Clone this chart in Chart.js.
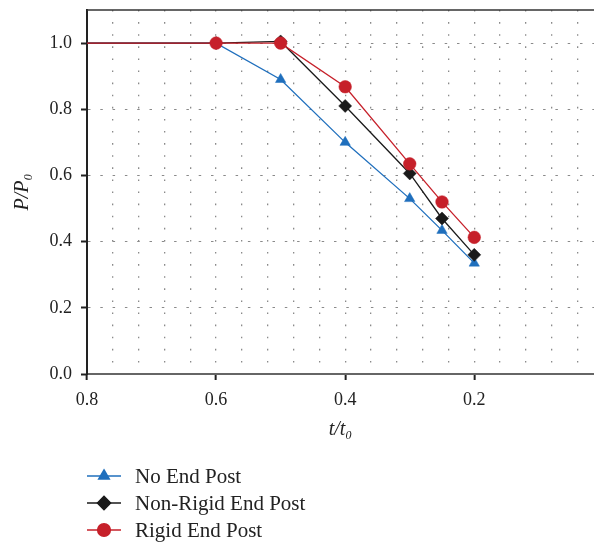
<!DOCTYPE html>
<html>
<head>
<meta charset="utf-8">
<script src="https://cdn.jsdelivr.net/npm/chart.js@4.4.0/dist/chart.umd.min.js"></script>
<style>
  html, body { margin: 0; padding: 0; background: #fff; overflow: hidden; }
</style>
</head>
<body>
<canvas id="chart" width="594" height="542"></canvas>
<script>
// t/t0 values (1.0 lies outside the axis, the line runs in from the left edge)
const thicknessRatio = [1.0, 0.6, 0.5, 0.4, 0.3, 0.25, 0.2];
const noEndPost = [1.0, 1.0, 0.89, 0.70, 0.53, 0.434, 0.335];
const nonRigidEndPost = [1.0, 1.0, 1.005, 0.81, 0.606, 0.47, 0.36];
const rigidEndPost = [1.0, 1.0, 1.0, 0.868, 0.635, 0.52, 0.413];
const seriesNames = ['No End Post', 'Non-Rigid End Post', 'Rigid End Post'];
const xTickLabels = [0.8, 0.6, 0.4, 0.2];
const yTickLabels = [0, 0.2, 0.4, 0.6, 0.8, 1.0];
const xMinorTicks = [0.76, 0.72, 0.68, 0.64, 0.56, 0.52, 0.48, 0.44, 0.36, 0.32, 0.28, 0.24, 0.16, 0.12, 0.08, 0.04];

const colors = ['#1f6fbd', '#1a1a1a', '#c6202a'];
const markers = ['triangle', 'rectRot', 'circle'];
const markerSizes = [6, 6.5, 6.3];
const serif = "'Liberation Serif', 'DejaVu Serif', serif";

function toPoints(values) {
    return values.map((v, i) => ({ x: thicknessRatio[i], y: v }));
}

function isMajor(value, list) {
    return list.some(t => Math.abs(t - value) < 1e-6);
}

// Top frame line (the right side of the frame is cut off in the original)
const topFrame = {
    id: 'topFrame',
    afterDraw(chart) {
        const { ctx, chartArea } = chart;
        ctx.save();
        ctx.strokeStyle = '#333';
        ctx.lineWidth = 1.5;
        ctx.beginPath();
        ctx.moveTo(chartArea.left, chartArea.top);
        ctx.lineTo(chart.width, chartArea.top);
        ctx.stroke();
        ctx.restore();
    }
};

// Vertical legend under the plot, line + marker for each series
const lineLegend = {
    id: 'lineLegend',
    afterDraw(chart) {
        const ctx = chart.ctx;
        const x0 = 87, x1 = 121, textX = 135;
        const rows = [476, 503, 530];
        ctx.save();
        chart.data.datasets.forEach((ds, i) => {
            const y = rows[i];
            ctx.strokeStyle = ds.borderColor;
            ctx.lineWidth = 1.6;
            ctx.beginPath();
            ctx.moveTo(x0, y);
            ctx.lineTo(x1, y);
            ctx.stroke();
            ctx.fillStyle = ds.backgroundColor;
            ctx.strokeStyle = ds.borderColor;
            Chart.helpers.drawPoint(ctx, {
                pointStyle: ds.pointStyle,
                radius: ds.pointRadius,
                rotation: 0,
                borderWidth: 0.5
            }, (x0 + x1) / 2, y);
            ctx.fillStyle = '#222';
            ctx.font = '21px ' + serif;
            ctx.textBaseline = 'middle';
            ctx.fillText(ds.label, textX, y + 1);
        });
        ctx.restore();
    }
};

const datasets = [noEndPost, nonRigidEndPost, rigidEndPost].map((values, i) => ({
    label: seriesNames[i],
    data: toPoints(values),
    borderColor: colors[i],
    backgroundColor: colors[i],
    borderWidth: 1.3,
    pointStyle: markers[i],
    pointRadius: markerSizes[i],
    pointHoverRadius: markerSizes[i],
    pointBorderWidth: 0.5,
    tension: 0,
    order: 2 - i
}));

new Chart(document.getElementById('chart'), {
    type: 'line',
    data: { datasets: datasets },
    options: {
        responsive: false,
        animation: false,
        layout: { autoPadding: false, padding: { top: 10, right: 0, left: 0, bottom: 98 } },
        plugins: {
            legend: { display: false },
            tooltip: { enabled: false }
        },
        scales: {
            x: {
                type: 'linear',
                reverse: true,
                min: 0.0145,
                max: 0.8,
                afterBuildTicks: scale => {
                    scale.ticks = xTickLabels.concat(xMinorTicks).map(v => ({ value: v }));
                },
                afterFit: scale => {
                    scale.height = 70;
                    scale.paddingLeft = 0;
                    scale.paddingRight = 0;
                },
                ticks: {
                    padding: 9,
                    color: '#222',
                    font: { family: serif, size: 18 },
                    maxRotation: 0,
                    callback: v => isMajor(v, xTickLabels) ? v.toFixed(1) : ''
                },
                grid: {
                    color: ctx => (ctx.tick && Math.abs(ctx.tick.value - 0.8) < 1e-6) ? 'rgba(0,0,0,0)' : '#8a8a8a',
                    lineWidth: 1.3,
                    drawTicks: true,
                    tickLength: 6,
                    tickWidth: 2,
                    tickColor: ctx => (ctx.tick && isMajor(ctx.tick.value, xTickLabels)) ? '#222' : 'rgba(0,0,0,0)'
                },
                border: { display: true, color: '#666', width: 2, dash: [1.6, 10.5], dashOffset: 0 },
                title: {
                    display: true,
                    text: 't/t\u2080',
                    color: '#222',
                    font: { family: serif, size: 20, style: 'italic' },
                    padding: { top: 0, bottom: 2 }
                }
            },
            y: {
                type: 'linear',
                min: 0,
                max: 1.1,
                afterBuildTicks: scale => {
                    scale.ticks = yTickLabels.map(v => ({ value: v }));
                },
                afterFit: scale => {
                    scale.width = 87;
                    scale.paddingTop = 0;
                    scale.paddingBottom = 0;
                },
                ticks: {
                    padding: 9,
                    color: '#222',
                    font: { family: serif, size: 18 },
                    callback: v => v.toFixed(1)
                },
                grid: {
                    color: ctx => (ctx.tick && ctx.tick.value === 0) ? 'rgba(0,0,0,0)' : '#8a8a8a',
                    lineWidth: 1,
                    drawTicks: true,
                    tickLength: 6,
                    tickWidth: 2,
                    tickColor: '#222'
                },
                border: { display: true, color: '#222', width: 2, dash: [2.5, 9.8], dashOffset: 0 },
                title: {
                    display: true,
                    text: 'P/P\u2080',
                    color: '#222',
                    font: { family: serif, size: 20, style: 'italic' },
                    padding: { top: 11, bottom: 0 }
                }
            }
        }
    },
    plugins: [topFrame, lineLegend]
});
</script>
</body>
</html>
